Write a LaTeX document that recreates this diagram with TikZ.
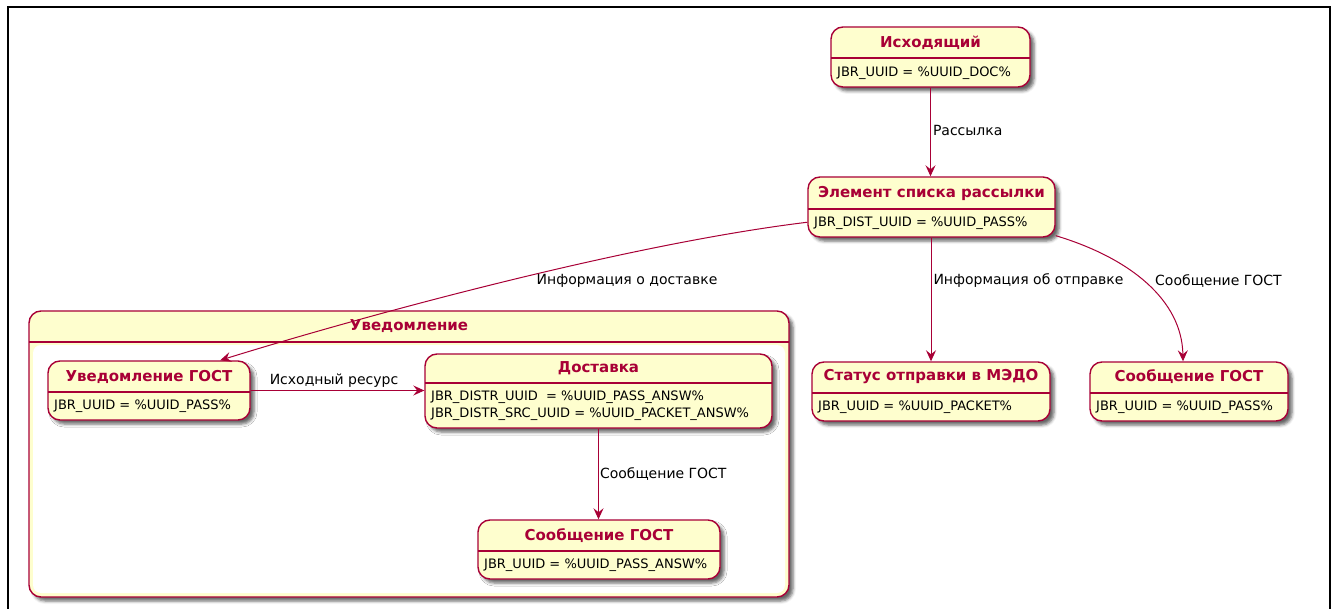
\documentclass[tikz,border=0pt]{standalone}
\usepackage{fontspec}
\setmainfont{DejaVu Sans}
\usetikzlibrary{arrows.meta,shadows.blur}
\definecolor{pu}{HTML}{A80036}
\definecolor{pfill}{HTML}{FEFECE}
\begin{document}
\begin{tikzpicture}[x=1pt,y=-1pt,
  state/.style={draw=pu, line width=1.4pt, fill=pfill, rounded corners=12pt, inner sep=0pt,
    blur shadow={shadow xshift=4pt, shadow yshift=-4pt, shadow blur radius=3pt, shadow opacity=60}},
  ttl/.style={text=pu, font=\fontsize{15}{17}\selectfont\bfseries, inner sep=0pt},
  body/.style={font=\fontsize{13}{17}\selectfont, inner sep=0pt, anchor=west, align=left},
  sep/.style={draw=pu, line width=1.2pt},
  conn/.style={draw=pu, line width=1pt, -{Stealth[length=11pt,width=10pt,inset=4pt]}},
  lbl/.style={font=\fontsize{14}{16}\selectfont, inner sep=0pt}
]
\useasboundingbox (0,0) rectangle (1335,609);
\draw[line width=2pt] (7.5,609) -- (7.5,7.5) -- (1330,7.5) -- (1330,609);

% container
\node[state, minimum width=760pt, minimum height=286pt] (cont) at (409,454) {};
\fill[white, rounded corners=8pt] (33,345) rectangle (785,593);
\draw[sep] (29,342) -- (789,342);
\node[ttl] (contt) at (409,326) {Уведомление};

% Исходящий
\node[state, minimum width=199pt, minimum height=60pt] (src) at (930.5,57) {};
\draw[sep] (831,58) -- (1030,58);
\node[ttl] (srct) at (930.5,42.5) {Исходящий};
\node[body] (srcb) at (837,73.5) {JBR\_UUID = \%UUID\_DOC\%};

% Элемент списка рассылки
\node[state, minimum width=247pt, minimum height=60pt] (elem) at (931.5,207) {};
\draw[sep] (808,209) -- (1055,209);
\node[ttl] (elemt) at (931.5,193) {Элемент списка рассылки};
\node[body] (elemb) at (814,223) {JBR\_DIST\_UUID = \%UUID\_PASS\%};

% Уведомление ГОСТ
\node[state, minimum width=202pt, minimum height=59pt] (ng) at (149,390.5) {};
\draw[sep] (48,392) -- (250,392);
\node[ttl] (ngt) at (149,376.5) {Уведомление ГОСТ};
\node[body] (ngb) at (54,406.5) {JBR\_UUID = \%UUID\_PASS\%};

% Доставка
\node[state, minimum width=347pt, minimum height=74pt] (dost) at (598.5,391) {};
\draw[sep] (425,383) -- (772,383);
\node[ttl] (dostt) at (598.5,368.5) {Доставка};
\node[body] (dostb) at (431,406) {JBR\_DISTR\_UUID \ = \%UUID\_PASS\_ANSW\%\\JBR\_DISTR\_SRC\_UUID = \%UUID\_PACKET\_ANSW\%};

% Сообщение ГОСТ (inner)
\node[state, minimum width=242pt, minimum height=59pt] (inm) at (599,549.5) {};
\draw[sep] (478,551) -- (720,551);
\node[ttl] (inmt) at (599,535.5) {Сообщение ГОСТ};
\node[body] (inmb) at (484,565.5) {JBR\_UUID = \%UUID\_PASS\_ANSW\%};

% Статус отправки в МЭДО
\node[state, minimum width=238pt, minimum height=59pt] (stat) at (931,391.5) {};
\draw[sep] (812,393) -- (1050,393);
\node[ttl] (statt) at (931,377) {Статус отправки в МЭДО};
\node[body] (statb) at (818,407.5) {JBR\_UUID = \%UUID\_PACKET\%};

% Сообщение ГОСТ (right)
\node[state, minimum width=198pt, minimum height=59pt] (rm) at (1189,391.5) {};
\draw[sep] (1090,393) -- (1288,393);
\node[ttl] (rmt) at (1189,377) {Сообщение ГОСТ};
\node[body] (rmb) at (1096,407.5) {JBR\_UUID = \%UUID\_PASS\%};

% connectors
\draw[conn] (src.south) -- (src.south |- elem.north)
  node[lbl, pos=0.48, anchor=west, xshift=2pt] (l1) {Рассылка};
\draw[conn] (elem.south -| stat.north) -- (stat.north)
  node[lbl, pos=0.35, anchor=west, xshift=2pt] (l2) {Информация об отправке};
\draw[conn] (elem.187) .. controls (620,245) and (350,320) .. (ng.23);
\node[lbl] (l3) at (627,281) {Информация о доставке};
\draw[conn] (elem.-13) .. controls (1130,258) and (1182,300) .. ([xshift=-6pt]rm.north);
\node[lbl, anchor=west] (l4) at (1155,281) {Сообщение ГОСТ};
\draw[conn] (ng.east) -- (ng.east -| dost.west)
  node[lbl, pos=0.48, above=3pt] (l5) {Исходный ресурс};
\draw[conn] (dost.south) -- (dost.south |- inm.north)
  node[lbl, pos=0.5, anchor=west, xshift=1pt] (l6) {Сообщение ГОСТ};
\end{tikzpicture}
\end{document}
